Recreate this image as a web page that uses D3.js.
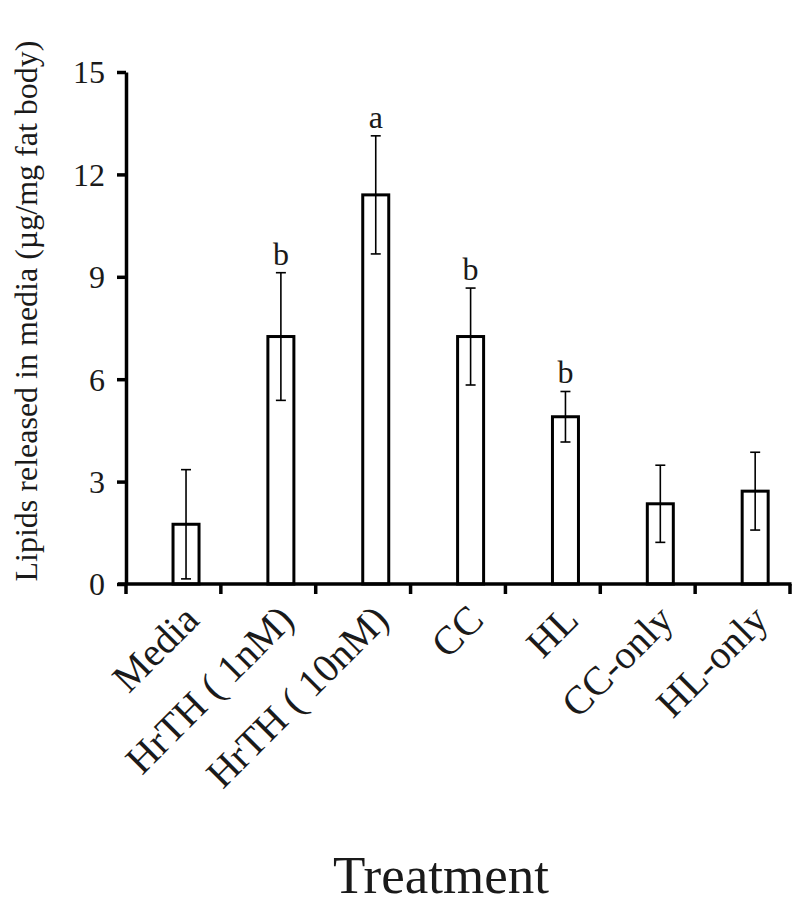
<!DOCTYPE html>
<html>
<head>
  <meta charset="utf-8">
  <title>Lipids released in media</title>
  <script src="https://d3js.org/d3.v7.min.js"></script>
  <style>
    body { margin: 0; background: #fff; }
    text { font-family: "Liberation Serif", "Times New Roman", serif; fill: #1a1a1a; }
  </style>
</head>
<body>
<svg width="800" height="906"></svg>
<script>
  // chart values
  const categories = ["Media", "HrTH ( 1nM)", "HrTH ( 10nM)", "CC", "HL", "CC-only", "HL-only"];
  const means = [1.75, 7.25, 11.4, 7.25, 4.9, 2.35, 2.72];
  const errors = [1.6, 1.87, 1.73, 1.42, 0.74, 1.13, 1.14];
  const letters = ["", "b", "a", "b", "b", "", ""];
  const yTicks = [0, 3, 6, 9, 12, 15];

  const svg = d3.select("svg");

  // scales
  const x = d3.scaleBand().domain(categories).range([126, 790]);
  const y = d3.scaleLinear().domain([0, 15]).range([584, 72]);
  const barW = 26;
  const barShift = 12.6;   // bars sit a bit right of band centre in the original
  const cx = d => x(d) + x.bandwidth() / 2 + barShift;

  // bars
  svg.selectAll(".bar")
    .data(categories)
    .enter().append("rect")
    .attr("class", "bar")
    .attr("x", d => cx(d) - barW / 2)
    .attr("y", (d, i) => y(means[i]))
    .attr("width", barW)
    .attr("height", (d, i) => y(0) - y(means[i]))
    .style("fill", "#fff")
    .style("stroke", "#000")
    .style("stroke-width", 3);

  // error bars
  const err = svg.selectAll(".err")
    .data(categories)
    .enter().append("g")
    .attr("class", "err")
    .style("stroke", "#000")
    .style("stroke-width", 1.6);
  err.append("line")
    .attr("x1", cx).attr("x2", cx)
    .attr("y1", (d, i) => y(Math.max(0, means[i] - errors[i])))
    .attr("y2", (d, i) => y(means[i] + errors[i]));
  err.append("line")
    .attr("x1", d => cx(d) - 5).attr("x2", d => cx(d) + 5)
    .attr("y1", (d, i) => y(means[i] + errors[i]))
    .attr("y2", (d, i) => y(means[i] + errors[i]));
  err.append("line")
    .attr("x1", d => cx(d) - 5).attr("x2", d => cx(d) + 5)
    .attr("y1", (d, i) => y(Math.max(0, means[i] - errors[i])))
    .attr("y2", (d, i) => y(Math.max(0, means[i] - errors[i])));

  // significance letters
  svg.selectAll(".letter")
    .data(categories)
    .enter().append("text")
    .attr("class", "letter")
    .attr("x", cx)
    .attr("y", (d, i) => y(means[i] + errors[i]) - 8)
    .attr("text-anchor", "middle")
    .style("font-size", "32px")
    .text((d, i) => letters[i]);

  // y axis
  const yAxis = svg.append("g")
    .attr("transform", "translate(126,0)")
    .call(d3.axisLeft(y).tickValues(yTicks).tickSize(9).tickSizeOuter(0).tickPadding(12));
  yAxis.select(".domain").style("stroke-width", 3.5);
  yAxis.selectAll(".tick line").style("stroke-width", 3.5);
  yAxis.selectAll(".tick text")
    .style("font-size", "32px")
    .style("font-family", "'Liberation Serif', serif")
    .attr("dy", "0.34em");

  // x axis line and ticks at band edges
  svg.append("line")
    .attr("x1", 118).attr("x2", x.range()[1] + 1.5)
    .attr("y1", y(0)).attr("y2", y(0))
    .style("stroke", "#000").style("stroke-width", 3.5);
  const edges = categories.map(d => x(d)).concat([x.range()[1]]);
  svg.selectAll(".xtick")
    .data(edges)
    .enter().append("line")
    .attr("x1", d => d).attr("x2", d => d)
    .attr("y1", y(0)).attr("y2", y(0) + 10)
    .style("stroke", "#000").style("stroke-width", 3.5);

  // category labels, rotated
  svg.selectAll(".xlab")
    .data(categories)
    .enter().append("text")
    .attr("class", "xlab")
    .attr("transform", d => `translate(${cx(d) + 15},${y(0) + 38}) rotate(-45)`)
    .attr("text-anchor", "end")
    .style("font-size", "40px")
    .text(d => d);

  // axis titles
  svg.append("text")
    .attr("transform", "translate(37,311) rotate(-90)")
    .attr("text-anchor", "middle")
    .style("font-size", "32px")
    .text("Lipids released in media (µg/mg fat body)");

  svg.append("text")
    .attr("x", 441).attr("y", 893)
    .attr("text-anchor", "middle")
    .style("font-size", "53px")
    .text("Treatment");
</script>
</body>
</html>
